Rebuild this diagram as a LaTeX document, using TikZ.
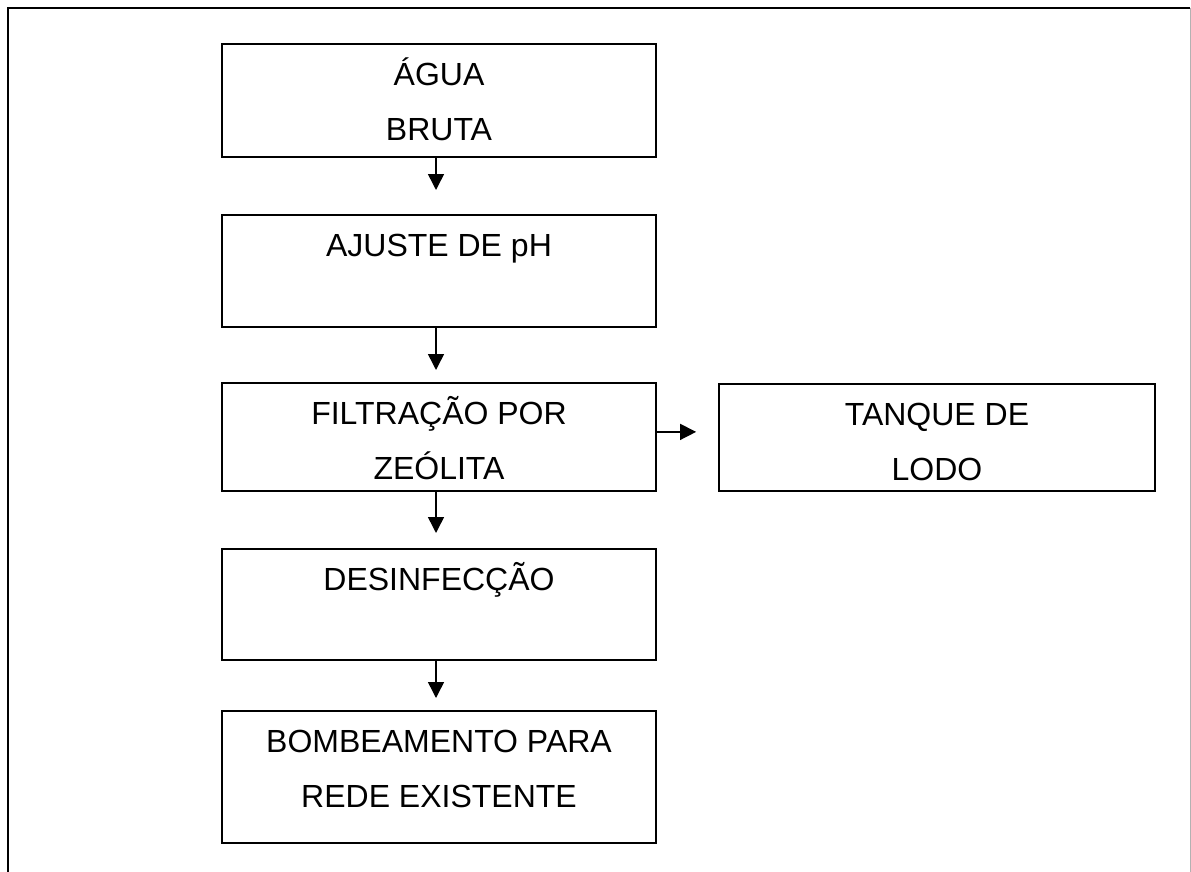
\documentclass[tikz,border=0pt]{standalone}
\usepackage{fontspec}
\setmainfont{Liberation Sans}
\usetikzlibrary{arrows.meta}

% lines of a stage box, hung from the first baseline
\newcommand{\stagetext}[1]{\begin{tabular}[t]{@{}c@{}}#1\end{tabular}}

\begin{document}
\begin{tikzpicture}[x=1pt,y=-1pt,
    stage/.style={draw,line width=1.8pt,anchor=north,inner sep=0pt,
        font={\fontsize{32}{55}\selectfont},
        minimum width=434pt,text height=42pt},
    flow/.style={line width=1.5pt,-{Triangle[length=16pt,width=16pt]}},
    ]
    \useasboundingbox (0,0) rectangle (1191,872);
    % Frame (runs off the bottom of the page)
    \draw[line width=2.2pt] (8,872) -- (8,8) -- (1190,8);
    \draw[gray!60,line width=1pt] (1190,8) -- (1190,872);
    % Stages
    \node[stage,text depth=71pt] (agua) at (439,43) {\stagetext{ÁGUA\\BRUTA}};
    \node[stage,text depth=70pt] (ajuste) at (439,214) {\stagetext{AJUSTE DE pH}};
    \node[stage,text depth=66pt] (filtracao) at (439,382) {\stagetext{FILTRAÇÃO POR\\ZEÓLITA}};
    \node[stage,text depth=65pt,minimum width=436pt] (tanque) at (937,383) {\stagetext{TANQUE DE\\LODO}};
    \node[stage,text depth=69pt] (desinfeccao) at (439,548) {\stagetext{DESINFECÇÃO}};
    \node[stage,text depth=90pt] (bombeamento) at (439,710) {\stagetext{BOMBEAMENTO PARA\\REDE EXISTENTE}};
    % Arrows
    \draw[flow,shorten >=24pt] ([xshift=-3pt]agua.south) -- ([xshift=-3pt]ajuste.north);
    \draw[flow,shorten >=12pt] ([xshift=-3pt]ajuste.south) -- ([xshift=-3pt]filtracao.north);
    \draw[flow,shorten >=15pt] ([xshift=-3pt]filtracao.south) -- ([xshift=-3pt]desinfeccao.north);
    \draw[flow,shorten >=12pt] ([xshift=-3pt]desinfeccao.south) -- ([xshift=-3pt]bombeamento.north);
    \draw[flow,shorten >=22pt] ([yshift=5pt]filtracao.east) -- ([yshift=5pt]filtracao.east -| tanque.west);
\end{tikzpicture}
\end{document}
